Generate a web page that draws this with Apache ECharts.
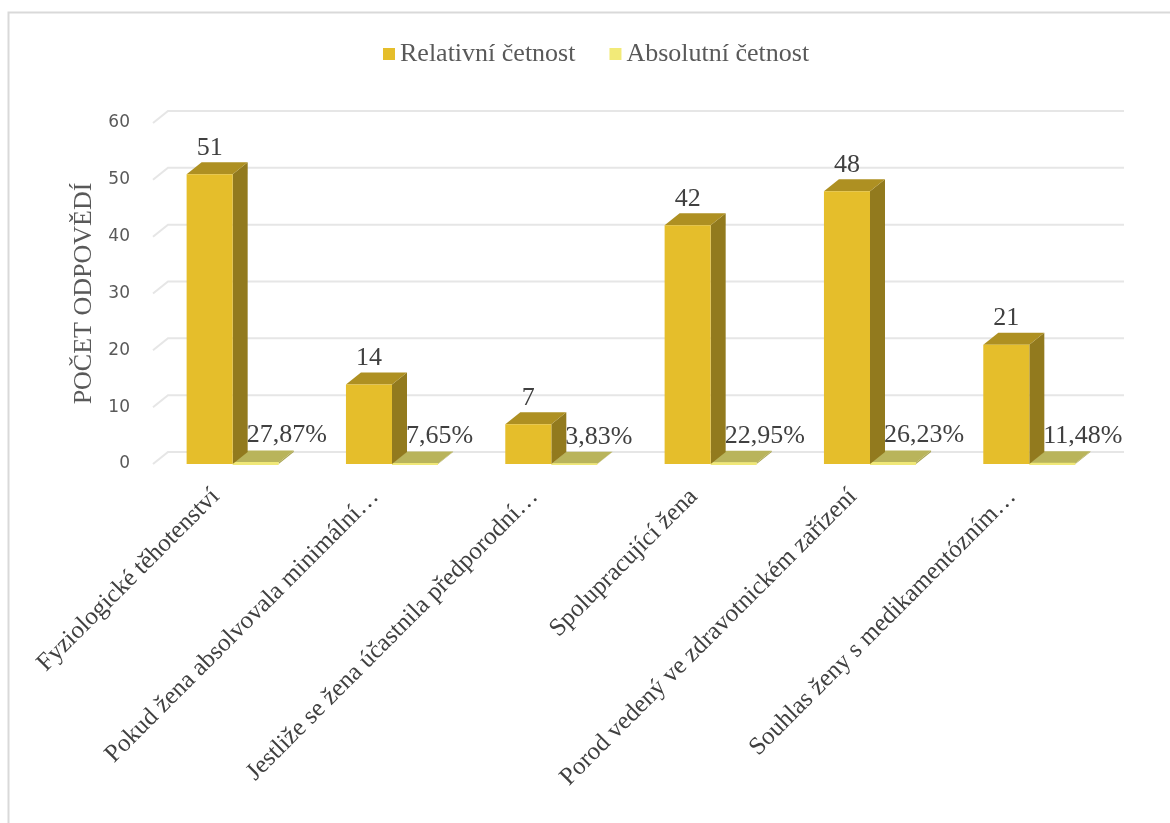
<!DOCTYPE html>
<html><head><meta charset="utf-8">
<script src="https://cdn.jsdelivr.net/npm/echarts@6/dist/echarts.min.js"></script>
<style>html,body{margin:0;padding:0;background:#fff}#c{width:1170px;height:823px}</style>
</head><body><div id="c"></div>
<script>
var categories = [
  'Fyziologické těhotenství',
  'Pokud žena absolvovala minimální…',
  'Jestliže se žena účastnila předporodní…',
  'Spolupracující žena',
  'Porod vedený ve zdravotnickém zařízení',
  'Souhlas ženy s medikamentózním…'
];
var relativeCounts = [51, 14, 7, 42, 48, 21];
var absolutePercents = [27.87, 7.65, 3.83, 22.95, 26.23, 11.48];
var yTicks = [0, 10, 20, 30, 40, 50, 60];
var seriesNames = ['Relativní četnost', 'Absolutní četnost'];
var axisName = 'POČET ODPOVĚDÍ';

var DX = 15, DY = -12, BAR_FRAC = 0.289;
var SERIF = '"Liberation Serif", "Times New Roman", serif';

function fmtPct(p) { return p.toFixed(2).replace('.', ',') + '%'; }

function renderDark(params, api) {
  var i = api.value(0), v = api.value(1);
  var b = api.coord([i, 0]), t = api.coord([i, v]);
  var w = api.size([1, 0])[0] * BAR_FRAC;
  var x0 = b[0] - w, x1 = b[0], yb = b[1], yt = t[1];
  return { type: 'group', children: [
    { type: 'polygon', shape: { points: [[x1, yt], [x1 + DX, yt + DY], [x1 + DX, yb + DY], [x1, yb]] }, style: { fill: '#927A1E' } },
    { type: 'polygon', shape: { points: [[x0, yt], [x0 + DX, yt + DY], [x1 + DX, yt + DY], [x1, yt]] }, style: { fill: '#AE9022' } },
    { type: 'rect', shape: { x: x0, y: yt, width: w, height: yb - yt }, style: { fill: '#E5BE2B' } },
    { type: 'text', style: { text: String(relativeCounts[params.dataIndex]), x: (x0 + x1) / 2, y: yt + DY - 1, align: 'center', verticalAlign: 'bottom', font: '26px ' + SERIF, fill: '#404040' } }
  ] };
}

function renderLight(params, api) {
  var i = api.value(0), v = api.value(1);
  var b = api.coord([i, 0]), t = api.coord([i, v]);
  var w = api.size([1, 0])[0] * BAR_FRAC;
  var x0 = b[0], x1 = b[0] + w, yb = b[1], yt = t[1];
  return { type: 'group', children: [
    { type: 'polygon', shape: { points: [[x1, yt], [x1 + DX, yt + DY], [x1 + DX, yb + DY], [x1, yb]] }, style: { fill: '#A9A450' } },
    { type: 'polygon', shape: { points: [[x0, yt], [x0 + DX, yt + DY], [x1 + DX, yt + DY], [x1, yt]] }, style: { fill: '#B9B45B' } },
    { type: 'rect', shape: { x: x0, y: yt - 0.5, width: w, height: yb - yt + 1.5 }, style: { fill: '#F0E878' } },
    { type: 'text', style: { text: fmtPct(absolutePercents[params.dataIndex]), x: x0 + DX - 1, y: yt + DY - 2, align: 'left', verticalAlign: 'bottom', font: '26px ' + SERIF, fill: '#404040' } }
  ] };
}

function renderGrid(params, api) {
  var cs = params.coordSys;
  var y = api.coord([0, api.value(1)])[1];
  return { type: 'polyline', shape: { points: [[cs.x, y], [cs.x + DX, y + DY], [cs.x + cs.width + DX, y + DY]] },
    style: { stroke: '#E6E6E6', lineWidth: 2, fill: null } };
}

var chart = echarts.init(document.getElementById('c'));
chart.setOption({
  animation: false,
  backgroundColor: '#fff',
  color: ['#E5BE2B', '#F2EA78'],
  graphic: [{ type: 'rect', shape: { x: 8.5, y: 12.5, width: 1300, height: 1000 }, style: { fill: null, stroke: '#D9D9D9', lineWidth: 2 }, silent: true }],
  legend: {
    top: 36, left: 378,
    itemWidth: 12, itemHeight: 12, itemGap: 34,
    icon: 'rect',
    data: seriesNames,
    textStyle: { fontFamily: SERIF, fontSize: 26, color: '#595959' }
  },
  grid: { left: 153, right: 61, top: 123, bottom: 359, containLabel: false },
  xAxis: {
    type: 'category', data: categories,
    axisLine: { show: false }, axisTick: { show: false }, splitLine: { show: false },
    axisLabel: { interval: 0, rotate: 45, margin: 12, padding: [0, 24, 0, 0], fontFamily: SERIF, fontSize: 25, color: '#404040' }
  },
  yAxis: {
    type: 'value', min: 0, max: 60, interval: 10,
    name: axisName, nameLocation: 'middle', nameGap: 56, nameRotate: 90,
    nameTextStyle: { fontFamily: SERIF, fontSize: 26, color: '#595959' },
    axisLine: { show: false }, axisTick: { show: false }, splitLine: { show: false },
    axisLabel: { margin: 23, fontFamily: '"DejaVu Sans", sans-serif', fontSize: 17, color: '#595959' }
  },
  series: [
    { type: 'custom', name: 'grid', renderItem: renderGrid, data: yTicks.map(function (t) { return [0, t]; }), z: 1, silent: true, clip: false },
    { type: 'custom', name: seriesNames[0], renderItem: renderDark, itemStyle: { color: '#E5BE2B' },
      data: relativeCounts.map(function (v, i) { return [i, v]; }), z: 3, clip: false },
    { type: 'custom', name: seriesNames[1], renderItem: renderLight, itemStyle: { color: '#F2EA78' },
      data: absolutePercents.map(function (p, i) { return [i, p / 100]; }), z: 2, clip: false }
  ]
});
</script></body></html>
